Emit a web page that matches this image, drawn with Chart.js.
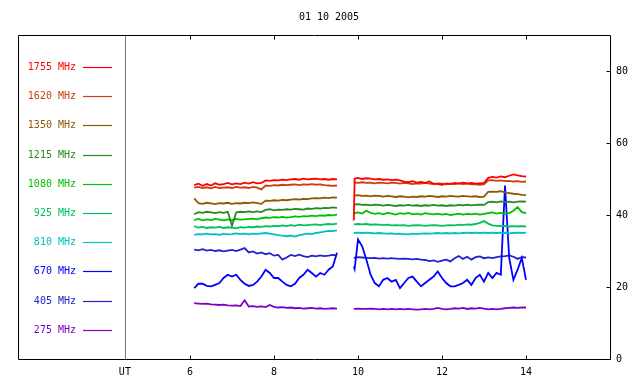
<!DOCTYPE html>
<html><head><meta charset="utf-8">
<script src="https://cdn.jsdelivr.net/npm/chart.js@4.4.1/dist/chart.umd.min.js"></script>
<style>html,body{margin:0;padding:0;background:#fff}#wrap{width:640px;height:384px}</style>
</head><body><div id="wrap"><canvas id="c" width="640" height="384"></canvas></div>
<script>
const chartTitle = '01 10 2005';
const xTickValues = [6, 8, 10, 12, 14];
const yTickValues = [0, 20, 40, 60, 80];
const utMark = 4.45;
const utLabel = 'UT';

const times = [
  6.1, 6.2, 6.3, 6.4, 6.5, 6.6, 6.7, 6.8, 6.9, 7.0,
  7.1, 7.2, 7.3, 7.4, 7.5, 7.6, 7.7, 7.8, 7.9, 8.0,
  8.1, 8.2, 8.3, 8.4, 8.5, 8.6, 8.7, 8.8, 8.9, 9.0,
  9.1, 9.2, 9.3, 9.4, 9.5,
  9.7,
  9.9, 9.92,
  10.0, 10.1, 10.2, 10.3, 10.4, 10.5, 10.6, 10.7, 10.8, 10.9,
  11.0, 11.1, 11.2, 11.3, 11.4, 11.5, 11.6, 11.7, 11.8, 11.9,
  12.0, 12.1, 12.2, 12.3, 12.4, 12.5, 12.6, 12.7, 12.8, 12.9,
  13.0, 13.1, 13.2, 13.3, 13.4, 13.5, 13.6, 13.7, 13.8, 13.9, 14.0
];

const labels = ['1755 MHz', '1620 MHz', '1350 MHz', '1215 MHz', '1080 MHz', '925 MHz', '810 MHz', '670 MHz', '405 MHz', '275 MHz'];
const colors = ['#ff0000', '#c84010', '#8c5a00', '#228b22', '#00c000', '#00c060', '#00c0c0', '#0000ff', '#2222cc', '#7f00bf'];

const f1755 = [
  48.3, 48.7, 48.1, 48.6, 48.2, 48.8, 48.4, 48.6, 48.9, 48.5,
  48.8, 48.6, 49.0, 48.7, 49.1, 48.8, 48.9, 49.6, 49.5, 49.7,
  49.6, 49.8, 49.7, 49.9, 50.0, 49.8, 50.1, 49.9, 50.0, 50.1,
  49.9, 50.0, 49.8, 50.0, 49.9,
  null,
  38.5, 50.1,
  50.3, 50.0, 50.2, 50.1, 49.9, 50.0, 49.8, 49.9, 49.7, 49.8,
  49.6, 49.3, 49.1, 49.4, 49.0, 49.2, 48.9, 49.3, 48.7, 48.6,
  48.4, 48.8, 48.6, 48.9, 48.7, 49.0, 48.8, 48.9, 48.7, 48.8,
  48.9, 50.3, 50.6, 50.4, 50.7, 50.5, 50.9, 51.3, 51.0, 50.8, 50.7
];
const f1620 = [
  47.6, 47.8, 47.5, 47.7, 47.4, 47.8, 47.5, 47.6, 47.7, 47.5,
  47.8, 47.6, 47.7, 47.5, 47.8, 47.6, 47.1, 48.2, 48.1, 48.3,
  48.2, 48.4, 48.3, 48.4, 48.5, 48.3, 48.5, 48.4, 48.6, 48.4,
  48.5, 48.3, 48.2, 48.1, 48.2,
  null,
  49.0, 49.0,
  48.9, 49.1, 48.9, 49.0, 48.8, 49.0, 48.9, 48.8, 49.0, 48.9,
  48.7, 48.9, 48.8, 48.6, 48.8, 48.7, 48.9, 48.7, 48.6, 48.8,
  48.7, 48.5, 48.7, 48.6, 48.8, 48.6, 48.7, 48.5, 48.6, 48.4,
  48.5, 49.6, 49.7, 49.5, 49.6, 49.4, 49.5, 49.3, 49.4, 49.2, 49.3
];
const f1350 = [
  44.6, 43.3, 43.1, 43.4, 43.2, 43.0, 43.3, 43.2, 43.4, 43.1,
  43.3, 43.2, 43.4, 43.3, 43.5, 43.3, 43.1, 44.0, 43.9, 44.1,
  44.0, 44.2, 44.1, 44.3, 44.4, 44.3, 44.5, 44.4, 44.6, 44.7,
  44.6, 44.8, 44.7, 44.9, 44.8,
  null,
  45.3, 45.4,
  45.5, 45.3, 45.4, 45.2, 45.4, 45.3, 45.1, 45.3, 45.2, 45.0,
  45.2, 45.1, 44.9, 45.1, 45.0, 45.2, 45.1, 45.3, 45.2, 45.0,
  45.2, 45.1, 45.3, 45.2, 45.1, 45.3, 45.2, 45.1, 45.2, 45.0,
  45.1, 46.4, 46.5, 46.4, 46.6, 46.3, 46.1, 45.9, 45.8, 45.6, 45.5
];
const f1215 = [
  40.2, 40.8, 40.6, 40.9, 40.7, 40.5, 40.8, 40.6, 40.9, 37.0,
  40.7, 40.9, 40.8, 41.0, 40.8, 41.0, 40.8, 41.4, 41.6, 41.3,
  41.5, 41.4, 41.6, 41.5, 41.7, 41.6, 41.5, 41.8, 41.7, 41.9,
  41.8, 42.0, 41.9, 42.1, 42.0,
  null,
  42.9, 42.9,
  43.0, 42.8, 42.9, 42.7, 42.9, 42.8, 42.6, 42.8, 42.7, 42.5,
  42.7, 42.6, 42.8, 42.6, 42.7, 42.5, 42.7, 42.6, 42.8, 42.6,
  42.7, 42.5, 42.7, 42.6, 42.8, 42.7, 42.9, 42.7, 42.8, 42.9,
  42.8, 43.6, 43.7, 43.5, 43.8, 43.6, 43.7, 43.5, 43.7, 43.8, 43.7
];
const f1080 = [
  38.6, 38.9, 38.5, 38.8, 38.6, 38.9, 38.7, 38.5, 38.8, 38.6,
  38.9, 38.7, 38.8, 38.9, 39.0, 38.8, 39.1, 39.3, 39.2, 39.4,
  39.3, 39.5, 39.3, 39.4, 39.6, 39.5, 39.7, 39.6, 39.8, 39.7,
  39.9, 39.8, 40.0, 39.9, 40.1,
  null,
  40.3, 40.5,
  40.7, 40.4, 41.2, 40.6, 40.3, 40.5, 40.2, 40.6, 40.4, 40.1,
  40.5, 40.3, 40.6, 40.2, 40.4, 40.1, 40.5, 40.3, 40.2, 40.4,
  40.1, 40.3, 40.0, 40.2, 40.4, 40.1, 40.3, 40.2, 40.4, 40.1,
  40.3, 40.5, 40.7, 40.4, 40.6, 40.3, 40.5, 41.2, 42.2, 40.8, 40.5
];
const f925 = [
  36.9, 36.5, 36.7, 36.4, 36.6, 36.5, 36.7, 36.4, 36.6, 36.5,
  36.3, 36.6, 36.5, 36.7, 36.6, 36.8, 36.7, 36.9, 36.8, 37.0,
  36.9, 37.1, 36.9, 37.2, 37.0, 37.3, 37.1, 37.2, 37.3, 37.4,
  37.2, 37.4, 37.5, 37.4, 37.6,
  null,
  37.4, 37.4,
  37.5, 37.4, 37.5, 37.3, 37.4, 37.3, 37.2, 37.3, 37.1, 37.2,
  37.1, 37.2, 37.0, 37.1, 37.2, 37.1, 37.0, 37.1, 37.2, 37.1,
  37.0, 37.1, 37.2, 37.1, 37.3, 37.2, 37.4, 37.3, 37.5, 37.8,
  38.3, 37.6, 37.1, 37.0, 36.9, 37.0, 36.8, 36.9, 36.8, 36.9, 36.8
];
const f810 = [
  34.5, 34.7, 34.6, 34.8, 34.6, 34.7, 34.5, 34.8, 34.6, 34.7,
  34.9, 34.7, 34.8, 34.6, 34.8, 34.7, 34.9, 35.0, 34.8, 34.6,
  34.4, 34.3, 34.1, 34.3, 34.0, 34.4, 34.6, 34.8, 34.7, 35.0,
  35.2, 35.4, 35.6, 35.5, 35.7,
  null,
  35.0, 35.0,
  35.1, 35.0, 35.1, 35.0, 34.9, 35.0, 34.9, 34.8, 34.9, 34.7,
  34.8, 34.7, 34.6, 34.8, 34.7, 34.8, 34.9, 34.8, 34.9, 35.0,
  34.9, 35.0, 34.9, 35.0, 34.9, 35.0, 35.1, 35.0, 35.1, 35.0,
  35.1, 35.0, 35.1, 35.0, 35.1, 35.0, 34.9, 35.0, 35.1, 35.0, 35.1
];
const f670 = [
  19.7, 20.9, 20.9, 20.3, 20.2, 20.6, 21.1, 22.5, 23.4, 22.9,
  23.4, 22.0, 20.9, 20.3, 20.6, 21.5, 22.9, 24.8, 23.9, 22.5,
  22.5, 21.5, 20.6, 20.2, 20.9, 22.5, 23.4, 24.8, 23.9, 22.9,
  23.9, 23.4, 24.8, 25.7, 29.5,
  null,
  25.7, 25.0,
  33.2, 31.3, 27.6, 23.4, 21.1, 20.2, 22.0, 22.5, 21.5, 22.0,
  19.7, 21.1, 22.5, 22.9, 21.5, 20.2, 21.1, 22.0, 22.9, 24.3,
  22.5, 21.1, 20.2, 20.2, 20.6, 21.1, 22.0, 20.6, 22.5, 23.4,
  21.5, 23.9, 22.5, 23.9, 23.4, 48.2, 28.1, 22.0, 24.8, 28.1, 22.0
];
const f405 = [
  30.4, 30.2, 30.5, 30.1, 30.3, 30.0, 30.2, 29.9, 30.1, 30.3,
  30.0, 30.4, 30.8, 29.6, 29.9, 29.3, 29.6, 29.1, 29.4, 28.7,
  28.9, 27.6, 28.2, 28.9, 28.6, 29.0, 28.6, 28.3, 28.7, 28.5,
  28.8, 28.6, 28.7, 28.9, 28.8,
  null,
  28.2, 28.1,
  28.3, 28.2, 28.1, 28.0, 28.1, 27.9, 28.0, 27.9, 28.0, 27.9,
  27.8, 27.9, 27.8, 27.7, 27.8, 27.6, 27.5, 27.2, 27.4, 27.0,
  27.3, 27.6, 27.1, 28.0, 28.6, 27.8, 28.4, 27.6, 28.3, 28.5,
  28.0, 28.2, 28.0, 28.3, 28.5, 28.6, 28.8, 28.4, 27.8, 28.3, 28.2
];
const f275 = [
  15.5, 15.4, 15.3, 15.4, 15.2, 15.1, 15.0, 15.1, 14.9, 14.8,
  14.9, 14.7, 16.3, 14.6, 14.7, 14.5, 14.6, 14.4, 15.0, 14.5,
  14.3, 14.4, 14.2, 14.3, 14.1, 14.2, 14.0, 14.1, 14.2, 14.0,
  14.1, 13.9, 14.0, 14.1, 14.0,
  null,
  13.9, 13.9,
  14.0, 13.9, 13.9, 14.0, 13.9, 13.8, 13.9, 13.8, 13.9, 13.8,
  13.9, 13.8, 13.9, 13.8, 13.7, 13.8, 13.9, 13.8, 13.9, 14.2,
  13.9, 13.8, 13.9, 14.1, 14.0, 14.2, 13.9, 14.1, 14.0, 14.2,
  14.0, 13.8, 13.9, 13.8, 13.9, 14.1, 14.2, 14.3, 14.2, 14.3, 14.3
];

const series = [f1755, f1620, f1350, f1215, f1080, f925, f810, f670, f405, f275];

const FONT = "'DejaVu Sans Mono', 'Liberation Mono', monospace";
Chart.defaults.font.family = FONT;
Chart.defaults.font.size = 10;
Chart.defaults.color = '#000';

const datasets = series.map((vals, i) => ({
  label: labels[i],
  data: times.map((t, k) => ({ x: t, y: vals[k] })),
  borderColor: colors[i],
  backgroundColor: colors[i],
  borderWidth: 1.8,
  pointRadius: 0,
  tension: 0,
  spanGaps: false
}));

const framePlugin = {
  id: 'frame',
  beforeDatasetsDraw(chart) {
    const { ctx, chartArea: a, scales: { x } } = chart;
    const px = Math.round(x.getPixelForValue(utMark)) + 0.5;
    ctx.save();
    ctx.strokeStyle = '#777';
    ctx.lineWidth = 1;
    ctx.beginPath();
    ctx.moveTo(px, a.top);
    ctx.lineTo(px, a.bottom);
    ctx.stroke();
    ctx.restore();
  },
  afterDatasetsDraw(chart) {
    const { ctx, chartArea: a, scales: { x, y } } = chart;
    ctx.save();
    ctx.strokeStyle = '#000';
    ctx.lineWidth = 1;
    const L = Math.round(a.left) + 0.5, R = Math.round(a.right) + 0.5;
    const T = Math.round(a.top) + 0.5, B = Math.round(a.bottom) + 0.5;
    ctx.beginPath();
    ctx.rect(L, T, R - L, B - T);
    xTickValues.forEach(v => {
      const px = Math.round(x.getPixelForValue(v)) + 0.5;
      ctx.moveTo(px, B); ctx.lineTo(px, B - 4);
      ctx.moveTo(px, T); ctx.lineTo(px, T + 4);
    });
    yTickValues.forEach(v => {
      const py = Math.round(y.getPixelForValue(v)) + 0.5;
      ctx.moveTo(R, py); ctx.lineTo(R - 4, py);
    });
    ctx.stroke();

    // in-plot legend
    ctx.font = '10px ' + FONT;
    ctx.textAlign = 'right';
    ctx.textBaseline = 'middle';
    labels.forEach((lab, i) => {
      const ly = Math.round(a.top + 32 + i * 29.2) + 0.5;
      ctx.fillStyle = colors[i];
      ctx.fillText(lab, a.left + 58, ly);
      ctx.strokeStyle = colors[i];
      ctx.lineWidth = 1.2;
      ctx.beginPath();
      ctx.moveTo(a.left + 65, ly);
      ctx.lineTo(a.left + 94, ly);
      ctx.stroke();
    });
    ctx.restore();
  }
};

new Chart(document.getElementById('c'), {
  type: 'line',
  data: { datasets },
  options: {
    responsive: false,
    devicePixelRatio: 1,
    animation: false,
    events: [],
    layout: { padding: { left: 18, right: 0, top: 0, bottom: 0 } },
    plugins: {
      legend: { display: false },
      tooltip: { enabled: false },
      title: {
        display: true, text: chartTitle, color: '#000',
        font: { size: 10, weight: 'normal', family: FONT },
        padding: { top: 11, bottom: 12 }
      }
    },
    scales: {
      x: {
        type: 'linear', position: 'bottom', min: 1.905, max: 16,
        afterBuildTicks: s => { s.ticks = [utMark, ...xTickValues].map(v => ({ value: v })); },
        ticks: {
          autoSkip: false, maxRotation: 0, padding: 7, color: '#000',
          callback: v => (v === utMark ? utLabel : String(v))
        },
        grid: { display: false, drawTicks: false },
        border: { display: false },
        afterFit: s => { s.height = 25; }
      },
      y: {
        type: 'linear', position: 'right', min: 0, max: 90,
        afterBuildTicks: s => { s.ticks = yTickValues.map(v => ({ value: v })); },
        ticks: { padding: 6, color: '#000' },
        grid: { display: false, drawTicks: false },
        border: { display: false },
        afterFit: s => { s.width = 30; }
      }
    }
  },
  plugins: [framePlugin]
});
</script>
</body></html>
